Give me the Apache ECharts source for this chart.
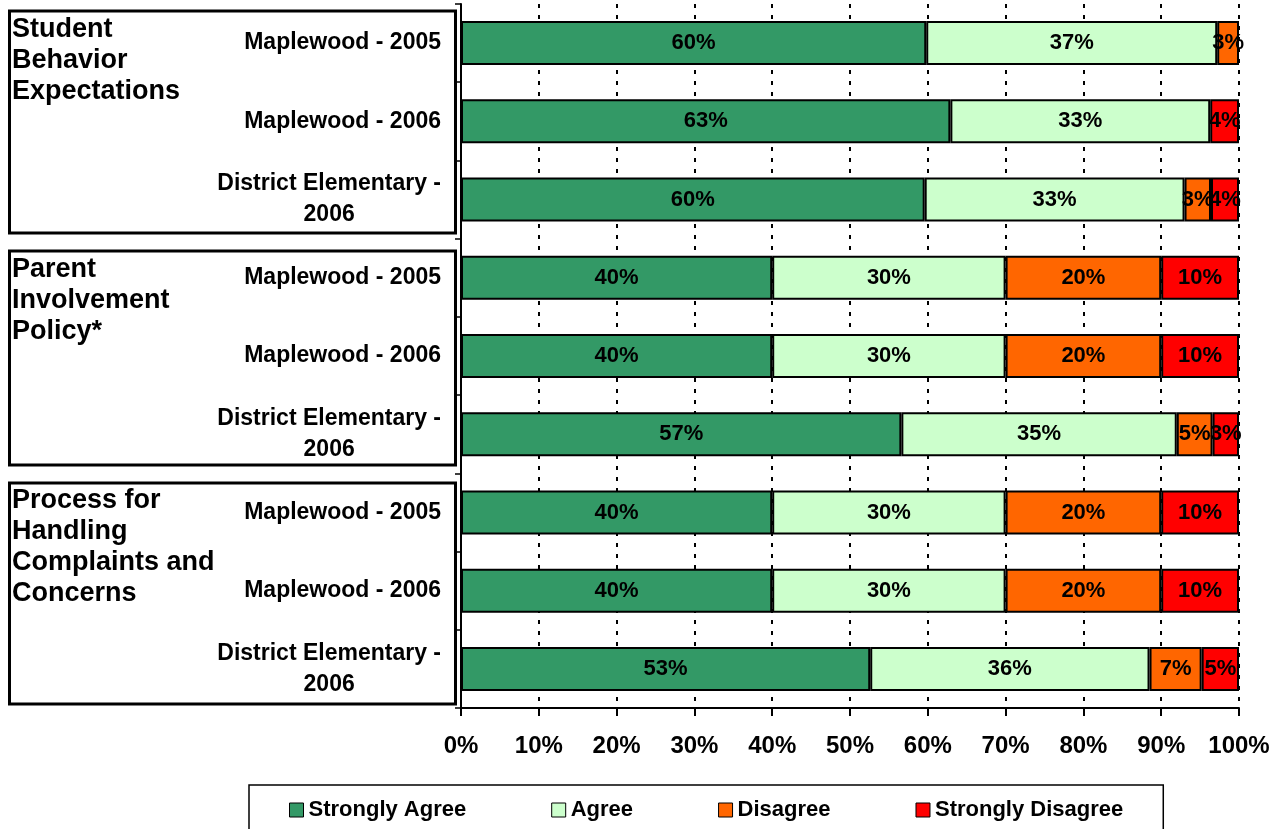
<!DOCTYPE html>
<html>
<head>
<meta charset="utf-8">
<script src="https://cdn.jsdelivr.net/npm/echarts@6/dist/echarts.min.js"></script>
<style>
html,body{margin:0;padding:0;background:#fff;}
#chart{width:1281px;height:829px;}
</style>
</head>
<body>
<div id="chart"></div>
<script>
// ---- data ----
const categoryLabels = [
  'Maplewood - 2005', 'Maplewood - 2006', 'District Elementary -\n2006',
  'Maplewood - 2005', 'Maplewood - 2006', 'District Elementary -\n2006',
  'Maplewood - 2005', 'Maplewood - 2006', 'District Elementary -\n2006'
];
const groupLabels = ['Student\nBehavior\nExpectations', 'Parent\nInvolvement\nPolicy*', 'Process for\nHandling\nComplaints and\nConcerns'];
const seriesNames = ['Strongly Agree', 'Agree', 'Disagree', 'Strongly Disagree'];
const stronglyAgree    = [59.8, 62.9, 59.6, 40, 40, 56.6, 40, 40, 52.6];
const agree            = [37.4, 33.4, 33.4, 30, 30, 35.4, 30, 30, 35.9];
const disagree         = [2.8,  0,    3.4,  20, 20, 4.6,  20, 20, 6.7];
const stronglyDisagree = [0,    3.7,  3.6,  10, 10, 3.4,  10, 10, 4.8];
const xTicks = [0, 10, 20, 30, 40, 50, 60, 70, 80, 90, 100];

const colors = ['#339966', '#CCFFCC', '#FF6600', '#FF0000'];
const FONT = '"Liberation Sans", Arial, sans-serif';

const chart = echarts.init(document.getElementById('chart'), null, {renderer: 'canvas'});

const seriesData = [stronglyAgree, agree, disagree, stronglyDisagree];
const series = seriesNames.map((name, i) => ({
  name: name,
  type: 'bar',
  stack: 'total',
  barWidth: 44,
  data: seriesData[i].map(v => v === 0 ? null : v),
  itemStyle: {color: colors[i], borderColor: '#000', borderWidth: 2},
  label: {
    show: true,
    position: 'inside',
    formatter: p => Math.round(p.value) + '%',
    color: '#000',
    fontFamily: FONT,
    fontWeight: 'bold',
    fontSize: 22
  },
  emphasis: {disabled: true}
}));

const boxes = [[11, 233], [251, 465], [483, 704]];
const labelTops = [14, 254, 485];
const graphics = [];
boxes.forEach((b, i) => {
  graphics.push({
    type: 'rect', silent: true,
    shape: {x: 9.5, y: b[0], width: 446, height: b[1] - b[0]},
    style: {fill: null, stroke: '#000', lineWidth: 3}
  });
  graphics.push({
    type: 'text', silent: true,
    x: 12, y: labelTops[i],
    style: {text: groupLabels[i], fill: '#000', fontFamily: FONT, fontWeight: 'bold', fontSize: 27, lineHeight: 31}
  });
});

const option = {
  animation: false,
  backgroundColor: '#fff',
  grid: {left: 461, right: 42, top: 4, bottom: 121, containLabel: false},
  xAxis: {
    type: 'value',
    min: 0, max: 100, interval: 10,
    axisLine: {show: true, lineStyle: {color: '#000', width: 2}},
    axisTick: {show: true, length: 8, lineStyle: {color: '#000', width: 2}},
    axisLabel: {
      formatter: v => xTicks.includes(v) ? v + '%' : '',
      color: '#000', fontFamily: FONT, fontWeight: 'bold', fontSize: 24, margin: 26
    },
    splitLine: {show: true, lineStyle: {color: '#000', width: 2, type: [4, 7]}}
  },
  yAxis: {
    type: 'category',
    inverse: true,
    data: categoryLabels.map((c, i) => String(i)),
    axisLine: {show: true, lineStyle: {color: '#000', width: 2}},
    axisTick: {show: true, length: 6, lineStyle: {color: '#000', width: 1.5}},
    axisLabel: {
      margin: 20,
      align: 'right',
      formatter: v => categoryLabels[+v].split('\n').map(s => '{c|' + s + '}').join('\n'),
      rich: {c: {align: 'center', color: '#000', fontFamily: FONT, fontWeight: 'bold', fontSize: 23, lineHeight: 31}}
    }
  },
  legend: {
    data: seriesNames,
    left: 249, top: 785,
    padding: [14, 40, 30, 40],
    borderColor: '#000', borderWidth: 1.5,
    itemWidth: 14, itemHeight: 14, itemGap: 85,
    icon: 'rect',
    itemStyle: {borderColor: '#000', borderWidth: 1},
    textStyle: {color: '#000', fontFamily: FONT, fontWeight: 'bold', fontSize: 22},
    selectedMode: false
  },
  graphic: graphics,
  series: series
};
chart.setOption(option);
</script>
</body>
</html>
